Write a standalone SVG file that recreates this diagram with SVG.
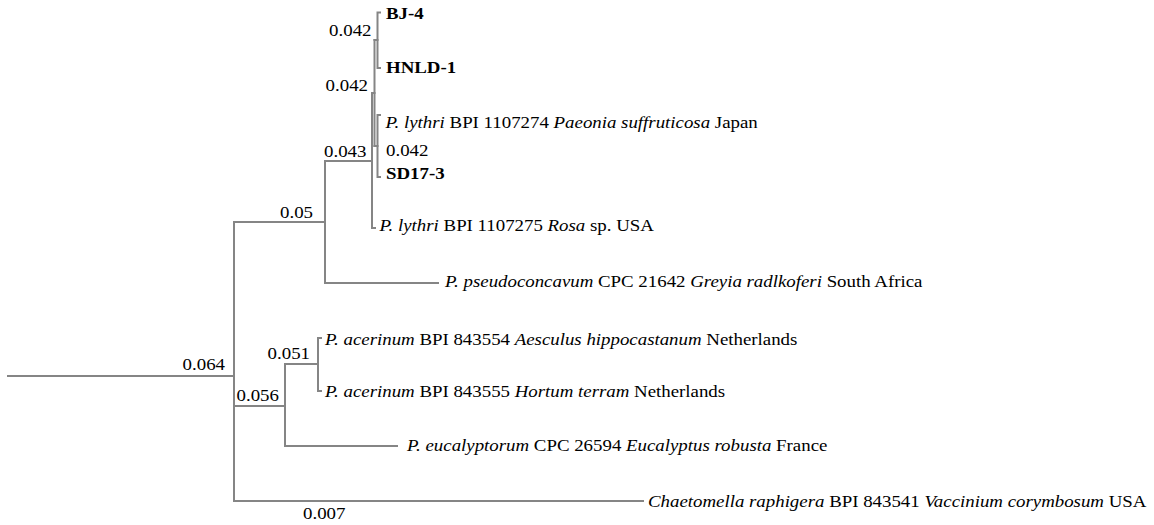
<svg xmlns="http://www.w3.org/2000/svg" width="1154" height="525" viewBox="0 0 1154 525">
<style>
.bg{fill:#ffffff}
.br{fill:none;stroke:#858585;stroke-width:2;stroke-linecap:square}
.t{font-family:"Liberation Serif","Times New Roman",serif;font-size:17px;fill:#000}
.i{font-style:italic}
.b{font-weight:bold}
.e{text-anchor:end}
</style>
<rect class="bg" x="0" y="0" width="1154" height="525"/>
<g id="connectors" class="br">
<path d="M8 376H234"/>
<path d="M234 222V501"/>
<path d="M234 222H325V161"/>
<path d="M325 222V283H438"/>
<path d="M325 161H372"/>
<path d="M372 93V228H375"/>
<path d="M372 93H374.5"/>
<path d="M374.5 40V146"/>
<path d="M374.5 40H377.5"/>
<path d="M380 12.5H377.5V68H380"/>
<path d="M374.5 146H377.5"/>
<path d="M380 115H377.5V177H380"/>
<path d="M234 406H285"/>
<path d="M285 364V446H397"/>
<path d="M285 364H318"/>
<path d="M321 338H318V391H321"/>
<path d="M234 501H643"/>
</g>
<g id="branch-labels">
<text class="t e" transform="translate(371.5 35.7) scale(1.11 1)">0.042</text>
<text class="t e" transform="translate(368 90.7) scale(1.11 1)">0.042</text>
<text class="t" transform="translate(386 155.5) scale(1.11 1)">0.042</text>
<text class="t" transform="translate(324 157) scale(1.11 1)">0.043</text>
<text class="t e" transform="translate(313 218.3) scale(1.11 1)">0.05</text>
<text class="t e" transform="translate(225 370) scale(1.11 1)">0.064</text>
<text class="t e" transform="translate(310 359.3) scale(1.11 1)">0.051</text>
<text class="t" transform="translate(236.5 400.7) scale(1.11 1)">0.056</text>
<text class="t" transform="translate(303 519) scale(1.11 1)">0.007</text>
</g>
<g id="leaf-BJ-4"><text class="t b" transform="translate(386 19) scale(1.11 1)">BJ-4</text></g>
<g id="leaf-HNLD-1"><text class="t b" transform="translate(386 72.7) scale(1.11 1)">HNLD-1</text></g>
<g id="leaf-lythri-japan"><text class="t" transform="translate(385.5 127.5) scale(1.11 1)"><tspan class="i">P. lythri</tspan> BPI 1107274 <tspan class="i">Paeonia suffruticosa</tspan> Japan</text></g>
<g id="leaf-SD17-3"><text class="t b" transform="translate(386 178.5) scale(1.11 1)">SD17-3</text></g>
<g id="leaf-lythri-usa"><text class="t" transform="translate(379.5 231) scale(1.11 1)"><tspan class="i">P. lythri</tspan> BPI 1107275 <tspan class="i">Rosa</tspan> sp. USA</text></g>
<g id="leaf-pseudoconcavum"><text class="t" transform="translate(445 287) scale(1.11 1)"><tspan class="i">P. pseudoconcavum</tspan> CPC 21642 <tspan class="i">Greyia radlkoferi</tspan> South Africa</text></g>
<g id="leaf-acerinum-1"><text class="t" transform="translate(325 344.5) scale(1.11 1)"><tspan class="i">P. acerinum</tspan> BPI 843554 <tspan class="i">Aesculus hippocastanum</tspan> Netherlands</text></g>
<g id="leaf-acerinum-2"><text class="t" transform="translate(325 397) scale(1.11 1)"><tspan class="i">P. acerinum</tspan> BPI 843555 <tspan class="i">Hortum terram</tspan> Netherlands</text></g>
<g id="leaf-eucalyptorum"><text class="t" transform="translate(407 451) scale(1.11 1)"><tspan class="i">P. eucalyptorum</tspan> CPC 26594 <tspan class="i">Eucalyptus robusta</tspan> France</text></g>
<g id="leaf-chaetomella"><text class="t" transform="translate(648 507) scale(1.11 1)"><tspan class="i">Chaetomella raphigera</tspan> BPI 843541 <tspan class="i">Vaccinium corymbosum</tspan> USA</text></g>
</svg>
